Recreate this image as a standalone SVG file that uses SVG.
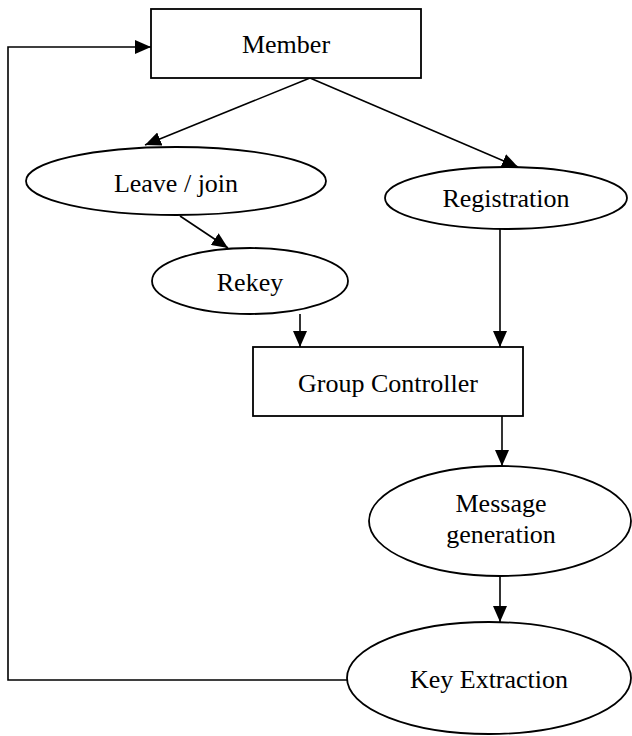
<svg xmlns="http://www.w3.org/2000/svg" width="632" height="736" viewBox="0 0 632 736">
<style>
.shape{fill:#fff;stroke:#000;stroke-width:1.8}
.lbl{font-family:"Liberation Serif","Times New Roman",serif;font-size:26px;fill:#000;text-anchor:middle}
.conn{fill:none;stroke:#000;stroke-width:1.6}
</style>
<defs>
<marker id="ah" markerUnits="userSpaceOnUse" markerWidth="16" markerHeight="14" viewBox="0 0 16 14" refX="16" refY="7" orient="auto">
<path d="M0,0 L16,7 L0,14 Z" fill="#000"/>
</marker>
</defs>
<g id="connectors">
<line class="conn" x1="310" y1="78" x2="145" y2="145" marker-end="url(#ah)"/>
<line class="conn" x1="310" y1="78" x2="518" y2="167" marker-end="url(#ah)"/>
<line class="conn" x1="180" y1="216" x2="228" y2="248" marker-end="url(#ah)"/>
<line class="conn" x1="300" y1="314" x2="300" y2="347" marker-end="url(#ah)"/>
<line class="conn" x1="500" y1="229" x2="500" y2="347" marker-end="url(#ah)"/>
<line class="conn" x1="502" y1="416" x2="502" y2="466" marker-end="url(#ah)"/>
<line class="conn" x1="500" y1="576" x2="500" y2="622" marker-end="url(#ah)"/>
<polyline class="conn" points="347,680 8,680 8,47 151,47" marker-end="url(#ah)"/>
</g>
<g id="member">
<rect class="shape" x="151" y="9" width="270" height="69"/>
<text class="lbl" x="286" y="53">Member</text>
</g>
<g id="leave-join">
<ellipse class="shape" cx="176" cy="181" rx="150" ry="34"/>
<text class="lbl" x="176" y="192">Leave / join</text>
</g>
<g id="registration">
<ellipse class="shape" cx="506" cy="198" rx="121" ry="31"/>
<text class="lbl" x="506" y="207">Registration</text>
</g>
<g id="rekey">
<ellipse class="shape" cx="250" cy="281" rx="98" ry="33"/>
<text class="lbl" x="250" y="291">Rekey</text>
</g>
<g id="group-controller">
<rect class="shape" x="253" y="347" width="270" height="69"/>
<text class="lbl" x="388" y="392">Group Controller</text>
</g>
<g id="message-generation">
<ellipse class="shape" cx="500" cy="521" rx="131" ry="55"/>
<text class="lbl" x="501" y="512">Message</text>
<text class="lbl" x="501" y="543">generation</text>
</g>
<g id="key-extraction">
<ellipse class="shape" cx="489" cy="678" rx="142" ry="56"/>
<text class="lbl" x="489" y="688">Key Extraction</text>
</g>
</svg>
